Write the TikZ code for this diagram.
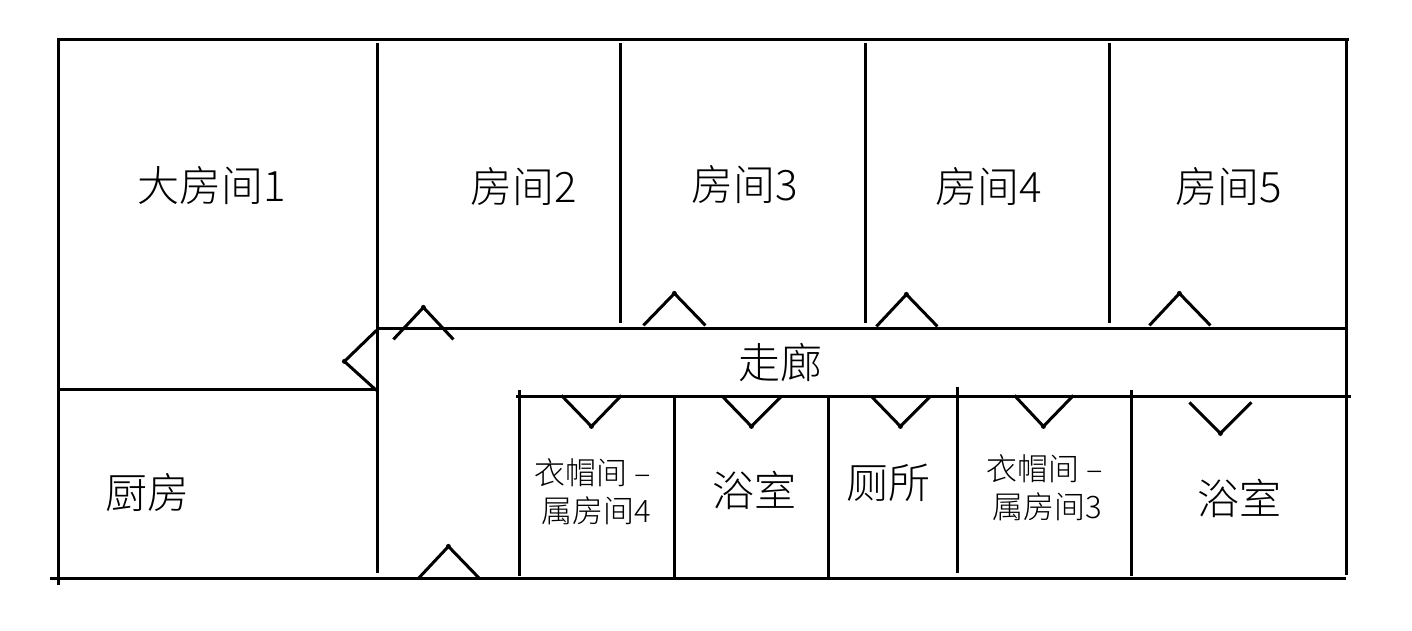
\documentclass[tikz,border=0pt]{standalone}
\usepackage{fontspec}
\setmainfont{Noto Sans CJK SC Light}
\tikzset{
  x=1pt,y=-1pt,
  wall/.style={line width=3.1pt,black,line cap=butt},
  doorleaf/.style={line width=3pt,black,line join=bevel,line cap=butt},
  biglabel/.style={inner sep=0pt,font=\fontsize{42}{42}\selectfont},
  smalllabel/.style={inner sep=0pt,font=\fontsize{31}{32}\selectfont},
}
\begin{document}
\begin{tikzpicture}
\useasboundingbox (-0.4,-0.4) rectangle (1411.6,629.6);
\fill[white] (-0.4,-0.4) rectangle (1411.6,629.6);
% outer walls
\draw[wall] (57,39) -- (1349,39);
\draw[wall] (58.5,41) -- (58.5,585);
\draw[wall] (50,578) -- (1346,578);
\draw[wall] (1346,41) -- (1346,575);
% upper room partitions
\draw[wall] (377,43) -- (377,573);
\draw[wall] (620,43) -- (620,323);
\draw[wall] (865,43) -- (865,323);
\draw[wall] (1109,43) -- (1109,323);
% corridor and kitchen
\draw[wall] (377,328) -- (1346,328);
\draw[wall] (58,389) -- (377,389);
\draw[wall] (516,396) -- (1351,396);
% lower partitions
\draw[wall] (519,390) -- (519,576);
\draw[wall] (674,396) -- (674,578);
\draw[wall] (828,396) -- (828,578);
\draw[wall] (957,387) -- (957,573);
\draw[wall] (1131,390) -- (1131,576);
% doors: end, hinge apex, end
\foreach \ax/\ay/\bx/\by/\cx/\cy in {
  393/339/423/307/453/339,
  376/330/344/361/376/390,
  643/325/674/293/705/325,
  876/326/906/294/937/326,
  1149/325/1179/293/1210/325,
  561/395/591/426/621/395,
  722/396/751/426/781/396,
  871/396/900/426/930/396,
  1014/395/1043/426/1073/395,
  1189/402/1220/433/1251/402,
  418/578/448/546/479/578}{
  \draw[doorleaf] (\ax,\ay) -- (\bx,\by) -- (\cx,\cy);
  \fill[black] (\bx,\by) circle[radius=2.5pt];
}
% labels
\node[biglabel] (r1) at (211,185) {大房间1};
\node[biglabel] (r2) at (523.5,186) {房间2};
\node[biglabel] (r3) at (744,184) {房间3};
\node[biglabel] (r4) at (988.5,186) {房间4};
\node[biglabel] (r5) at (1228.5,186) {房间5};
\node[biglabel] (corr) at (780,362) {走廊};
\node[biglabel] (kit) at (147,492) {厨房};
\node[biglabel] (bath1) at (754,490) {浴室};
\node[biglabel] (wc) at (888,482) {厕所};
\node[biglabel] (bath2) at (1239,498) {浴室};
\node[smalllabel] (cl1a) at (592.5,472) {衣帽间 –};
\node[smalllabel] (cl1b) at (596,510) {属房间4};
\node[smalllabel] (cl2a) at (1044,468) {衣帽间 –};
\node[smalllabel] (cl2b) at (1047,506) {属房间3};
\end{tikzpicture}
\end{document}
